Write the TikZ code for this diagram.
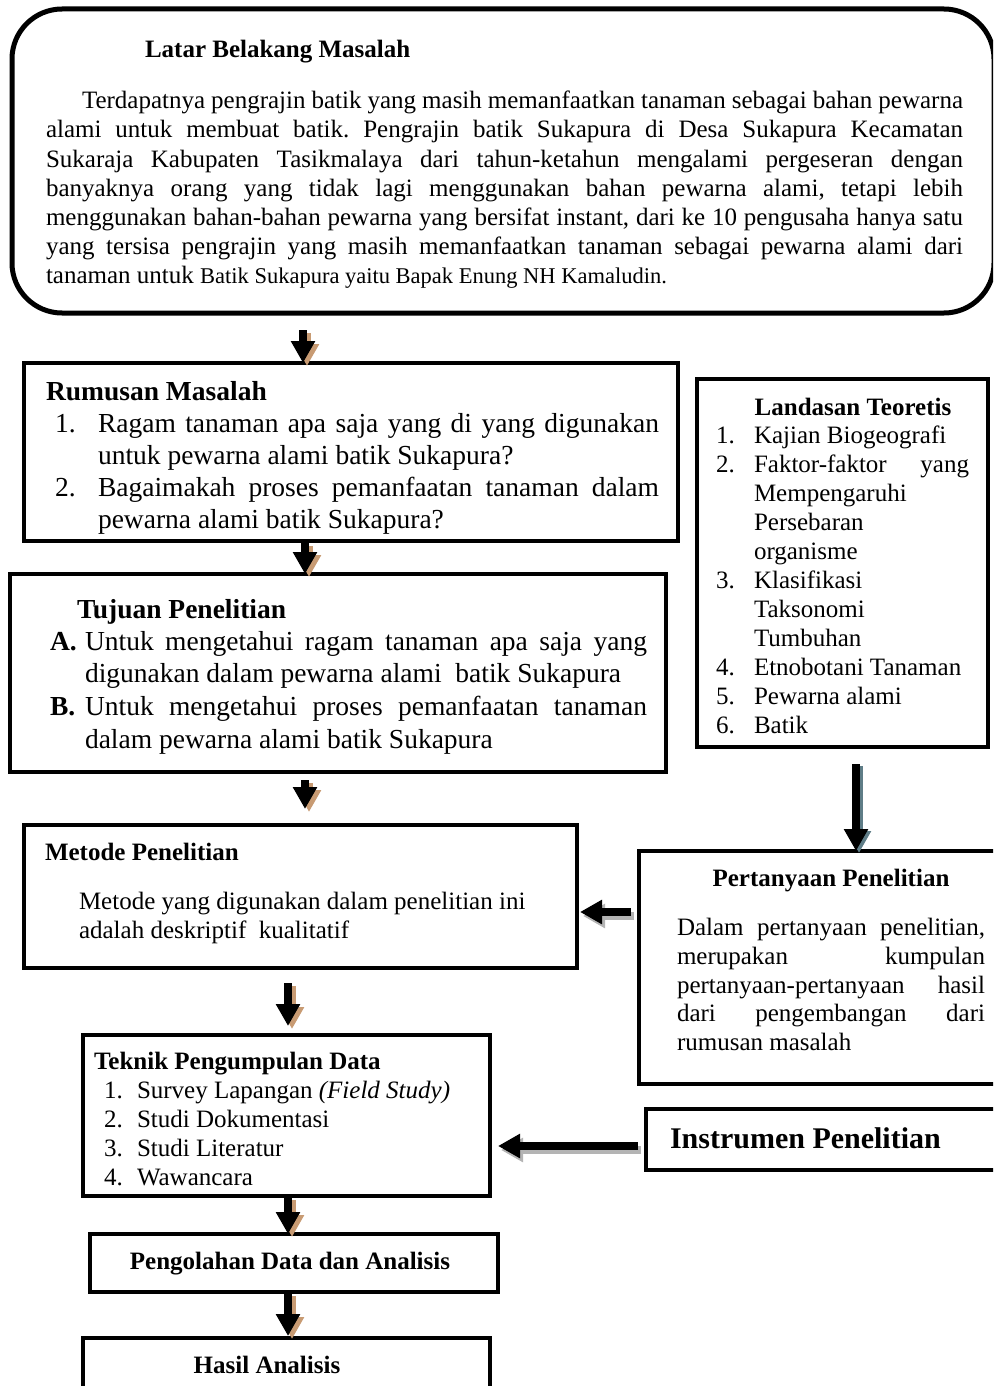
\documentclass[tikz,border=0pt]{standalone}
\usepackage{fontspec}
\setmainfont{Liberation Serif}
\usetikzlibrary{arrows.meta,calc}
\frenchspacing
\definecolor{tanshadow}{RGB}{200,155,115}
\definecolor{blueshadow}{RGB}{95,125,135}
\definecolor{grayshadow}{RGB}{180,180,180}
\newcommand\fA{\fontsize{25}{29}\selectfont}
\newcommand\fAs{\fontsize{22.5}{29}\selectfont}
\newcommand\fB{\fontsize{27.5}{32}\selectfont}
\newcommand\fC{\fontsize{30}{34}\selectfont}
\newcommand\tline[5][]{\node[tl,#1] (#2) at (#3,#4) {#5};}
\newcommand\sarrow[5]{%
  \draw[arr,#1,draw=#2] ($#4+#3$) -- ($#5+#3$);
  \draw[arr,#1] #4 -- #5;}
\begin{document}
\begin{tikzpicture}[x=1pt,y=-1pt,
  box/.style={draw, line width=4.5pt, inner sep=0pt, outer sep=0pt, anchor=north west},
  tl/.style={anchor=base west, inner sep=0pt, outer sep=0pt, font=\fA},
  tc/.style={anchor=base, inner sep=0pt, outer sep=0pt, font=\fA},
  arr/.style={line width=8pt, -{Triangle[width=23pt,length=22pt]}}]
\useasboundingbox (0,0) rectangle (993,1386);
\clip (0,0) rectangle (993,1386);
\fill[white] (0,0) rectangle (993,1386);

% ---------- boxes ----------
\node[box, rounded corners=50pt, line width=5pt, minimum width=982pt, minimum height=304pt] (top) at (12,9) {};
\node[box, minimum width=654pt, minimum height=178pt] (rum) at (24,363) {};
\node[box, minimum width=656pt, minimum height=198pt] (tuj) at (10,574) {};
\node[box, minimum width=553pt, minimum height=143pt] (met) at (24,825) {};
\node[box, minimum width=291pt, minimum height=368pt] (lan) at (697,379) {};
\node[box, minimum width=360pt, minimum height=233pt] (per) at (639,851) {};
\node[box, minimum width=407pt, minimum height=161pt] (tek) at (83,1035) {};
\node[box, minimum width=360pt, minimum height=61pt] (ins) at (646,1109) {};
\node[box, minimum width=408pt, minimum height=58pt] (pen) at (90,1234) {};
\node[box, minimum width=407pt, minimum height=80pt] (has) at (83,1338) {};

% ---------- Latar Belakang ----------
\tline[font=\fA\bfseries]{lbt}{145}{58}{Latar Belakang Masalah}
\tline{lb1}{82}{109}{\makebox[881pt][s]{Terdapatnya pengrajin batik yang masih memanfaatkan tanaman sebagai bahan pewarna}}
\tline{lb2}{46}{138}{\makebox[917pt][s]{alami untuk membuat batik. Pengrajin batik Sukapura di Desa Sukapura Kecamatan}}
\tline{lb3}{46}{167}{\makebox[917pt][s]{Sukaraja Kabupaten Tasikmalaya dari tahun-ketahun mengalami pergeseran dengan}}
\tline{lb4}{46}{196}{\makebox[917pt][s]{banyaknya orang yang tidak lagi menggunakan bahan pewarna alami, tetapi lebih}}
\tline{lb5}{46}{225}{\makebox[917pt][s]{menggunakan bahan-bahan pewarna yang bersifat instant, dari ke 10 pengusaha hanya satu}}
\tline{lb6}{46}{254}{\makebox[917pt][s]{yang tersisa pengrajin yang masih memanfaatkan tanaman sebagai pewarna alami dari}}
\tline{lb7}{46}{283}{tanaman untuk {\fAs Batik Sukapura yaitu Bapak Enung NH Kamaludin.}}

% ---------- Rumusan ----------
\tline[font=\fB\bfseries]{rmt}{46}{400}{Rumusan Masalah}
\tline[font=\fB]{rm1n}{55}{432}{1.}
\tline[font=\fB]{rm1a}{98}{432}{\makebox[561pt][s]{Ragam tanaman apa saja yang di yang digunakan}}
\tline[font=\fB]{rm1b}{98}{464}{untuk pewarna alami batik Sukapura?}
\tline[font=\fB]{rm2n}{55}{496}{2.}
\tline[font=\fB]{rm2a}{98}{496}{\makebox[561pt][s]{Bagaimakah proses pemanfaatan tanaman dalam}}
\tline[font=\fB]{rm2b}{98}{528}{pewarna alami batik Sukapura?}

% ---------- Tujuan ----------
\tline[font=\fB\bfseries]{tjt}{77}{618}{Tujuan Penelitian}
\tline[font=\fB\bfseries]{tjAn}{50}{650}{A.}
\tline[font=\fB]{tjAa}{85}{650}{\makebox[562pt][s]{Untuk mengetahui ragam tanaman apa saja yang}}
\tline[font=\fB]{tjAb}{85}{682}{digunakan dalam pewarna alami\ \ batik Sukapura}
\tline[font=\fB\bfseries]{tjBn}{50}{715}{B.}
\tline[font=\fB]{tjBa}{85}{715}{\makebox[562pt][s]{Untuk mengetahui proses pemanfaatan tanaman}}
\tline[font=\fB]{tjBb}{85}{748}{dalam pewarna alami batik Sukapura}

% ---------- Landasan ----------
\node[tc, font=\fA\bfseries] (lnt) at (853,415) {Landasan Teoretis};
\tline{ln1n}{716}{443}{1.}
\tline{ln1}{754}{443}{Kajian Biogeografi}
\tline{ln2n}{716}{472}{2.}
\tline{ln2a}{754}{472}{\makebox[215pt][s]{Faktor-faktor yang}}
\tline{ln2b}{754}{501}{Mempengaruhi}
\tline{ln2c}{754}{530}{Persebaran}
\tline{ln2d}{754}{559}{organisme}
\tline{ln3n}{716}{588}{3.}
\tline{ln3a}{754}{588}{Klasifikasi}
\tline{ln3b}{754}{617}{Taksonomi}
\tline{ln3c}{754}{646}{Tumbuhan}
\tline{ln4n}{716}{675}{4.}
\tline{ln4}{754}{675}{Etnobotani Tanaman}
\tline{ln5n}{716}{704}{5.}
\tline{ln5}{754}{704}{Pewarna alami}
\tline{ln6n}{716}{733}{6.}
\tline{ln6}{754}{733}{Batik}

% ---------- Metode ----------
\tline[font=\fA\bfseries]{mtt}{45}{860}{Metode Penelitian}
\tline{mt1}{79}{909}{Metode yang digunakan dalam penelitian ini}
\tline{mt2}{79}{938}{adalah deskriptif\ \ kualitatif}

% ---------- Pertanyaan ----------
\node[tc, font=\fA\bfseries] (prt) at (831,886) {Pertanyaan Penelitian};
\tline{pr1}{677}{935}{\makebox[308pt][s]{Dalam pertanyaan penelitian,}}
\tline{pr2}{677}{964}{\makebox[308pt][s]{merupakan kumpulan}}
\tline{pr3}{677}{993}{\makebox[308pt][s]{pertanyaan-pertanyaan hasil}}
\tline{pr4}{677}{1021}{\makebox[308pt][s]{dari pengembangan dari}}
\tline{pr5}{677}{1050}{rumusan masalah}

% ---------- Teknik ----------
\tline[font=\fA\bfseries]{tkt}{94}{1069}{Teknik Pengumpulan Data}
\tline{tk1n}{104}{1098}{1.}
\tline{tk1}{137}{1098}{Survey Lapangan \textit{(Field Study)}}
\tline{tk2n}{104}{1127}{2.}
\tline{tk2}{137}{1127}{Studi Dokumentasi}
\tline{tk3n}{104}{1156}{3.}
\tline{tk3}{137}{1156}{Studi Literatur}
\tline{tk4n}{104}{1185}{4.}
\tline{tk4}{137}{1185}{Wawancara}

% ---------- Instrumen / Pengolahan / Hasil ----------
\tline[font=\fC\bfseries]{inst}{670}{1148}{Instrumen Penelitian}
\node[tc, font=\fA\bfseries] (pent) at (290,1269) {Pengolahan Data dan Analisis};
\node[tc, font=\fA\bfseries] (hast) at (267,1373) {Hasil Analisis};

% ---------- arrows ----------
\coordinate (xa) at (303,0);
\coordinate (xb) at (305,0);
\coordinate (xc) at (288,0);
\coordinate (xd) at (856,0);
\coordinate (ya) at (0,912);
\coordinate (yb) at (0,1146);
\sarrow{shorten <=17pt}{tanshadow}{(4pt,-3pt)}{(xa |- top.south)}{(xa |- rum.north)}
\sarrow{shorten <=2pt}{tanshadow}{(4pt,-3pt)}{(xb |- rum.south)}{(xb |- tuj.north)}
\sarrow{shorten <=8pt,shorten >=16pt}{tanshadow}{(4pt,-3pt)}{(xb |- tuj.south)}{(xb |- met.north)}
\sarrow{shorten <=15pt,shorten >=9pt}{tanshadow}{(4pt,-3pt)}{(xc |- met.south)}{(xc |- tek.north)}
\sarrow{shorten <=1pt}{tanshadow}{(4pt,-3pt)}{(xc |- tek.south)}{(xc |- pen.north)}
\sarrow{shorten <=1pt,shorten >=2pt}{tanshadow}{(4pt,-3pt)}{(xc |- pen.south)}{(xc |- has.north)}
\sarrow{shorten <=17pt}{blueshadow}{(3pt,-2pt)}{(xd |- lan.south)}{(xd |- per.north)}
\sarrow{shorten <=8pt,shorten >=3pt}{grayshadow}{(3pt,-4pt)}{(ya -| per.west)}{(ya -| met.east)}
\sarrow{shorten <=8pt,shorten >=8pt}{grayshadow}{(3pt,-4pt)}{(yb -| ins.west)}{(yb -| tek.east)}
\end{tikzpicture}
\end{document}
